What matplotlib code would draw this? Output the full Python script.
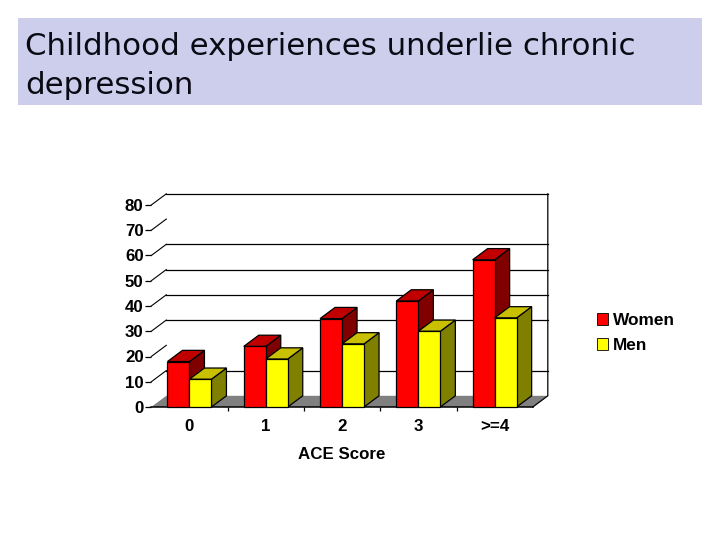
import matplotlib
matplotlib.use("Agg")
import matplotlib.pyplot as plt
from matplotlib.patches import Rectangle, Patch

plt.rcParams['font.family'] = ['Liberation Sans', 'DejaVu Sans']

title_lines = "Childhood experiences underlie chronic\ndepression"
categories = ["0", "1", "2", "3", ">=4"]
women = [18, 24, 35, 42, 58.3]
men = [11, 19, 25, 30, 35.3]
y_ticks = [0, 10, 20, 30, 40, 50, 60, 70, 80]
grid_values = [10, 30, 40, 50, 60, 80]
diag_values = [10, 20, 30, 40, 50, 60, 70, 80]
x_label = "ACE Score"
legend_labels = ["Women", "Men"]

W, H = 720, 540
fig = plt.figure(figsize=(W / 100, H / 100), dpi=100, facecolor="white")

# Title banner
fig.add_artist(Rectangle((18 / W, 1 - 105 / H), 684 / W, 87 / H,
                         transform=fig.transFigure, fc="#CCCEEC", ec="none"))
first, second = title_lines.split("\n")
fig.text(25 / W, 1 - 55 / H, first, fontsize=22.25, color="#0A0A14", family="DejaVu Sans",
         va="baseline", ha="left")
fig.text(25 / W, 1 - 94 / H, second, fontsize=22.25, color="#0A0A14", family="DejaVu Sans",
         va="baseline", ha="left")

# Plot area
L, R, T, B = 151.3, 548.0, 194.0, 407.0
ax = fig.add_axes([L / W, 1 - B / H, (R - L) / W, (B - T) / H])
n = len(categories)
cat_px = 76.3
px_per_unit = 2.525
dx = 15.0 / cat_px
dy = 11.2 / px_per_unit
ax.set_xlim(0, (R - L) / cat_px)
ax.set_ylim(0, (B - T) / px_per_unit)
for s in ax.spines.values():
    s.set_visible(False)
ax.patch.set_visible(False)

# Floor, walls, gridlines
ax.fill([0, n, n + dx, dx], [0, 0, dy, dy], fc="#808080", ec="none", zorder=1)
ax.plot([n, n + dx, n + dx], [0, dy, 80 + dy], color="black", lw=0.9, zorder=2, clip_on=False)
for v in grid_values:
    ax.plot([dx, n + dx], [v + dy, v + dy], color="black", lw=0.9, zorder=2, clip_on=False)
for v in diag_values:
    ax.plot([0, dx], [v, v + dy], color="black", lw=0.8, zorder=2, clip_on=False)
ax.plot([0, n], [0, 0], color="black", lw=1.1, zorder=3, clip_on=False)

# Bars
bw = 22 / cat_px
def bar3d(x0, h, front, top, side, z):
    ax.fill([x0 + bw, x0 + bw + dx, x0 + bw + dx, x0 + bw],
            [0, dy, h + dy, h], fc=side, ec="black", lw=0.9, zorder=z, clip_on=False)
    ax.fill([x0, x0 + dx, x0 + bw + dx, x0 + bw],
            [h, h + dy, h + dy, h], fc=top, ec="black", lw=0.9, zorder=z, clip_on=False)
    ax.bar(x0, h, width=bw, align="edge", fc=front, ec="black", lw=0.9, zorder=z + 0.1, clip_on=False)

for i in range(n):
    c = i + 0.5
    bar3d(c - bw, women[i], "#FF0000", "#C00000", "#800000", 4 + i * 0.01)
    bar3d(c, men[i], "#FFFF00", "#C8C000", "#808000", 5 + i * 0.01)

# Axes text
ax.set_yticks(y_ticks)
ax.set_yticklabels([str(v) for v in y_ticks], fontsize=12.2, fontweight="bold")
ax.tick_params(axis="y", length=4, width=0.9, pad=1.5)
ax.set_xticks(range(1, n))
ax.set_xticklabels([])
ax.tick_params(axis="x", which="major", length=3, width=0.9)
ax.set_xticks([i + 0.5 for i in range(n)], minor=True)
ax.set_xticklabels(categories, minor=True, fontsize=12.2, fontweight="bold")
ax.tick_params(axis="x", which="minor", length=0, pad=8.5)
fig.text(342 / W, 1 - 454.5 / H, x_label, fontsize=12.2, fontweight="bold", ha="center", va="center")

# Legend
handles = [Patch(fc="#FF0000", ec="black", lw=0.6), Patch(fc="#FFFF00", ec="black", lw=0.6)]
fig.legend(handles, legend_labels, loc="upper left", bbox_to_anchor=(597 / W, 1 - 313 / H),
           frameon=False, prop={"size": 12.4, "weight": "bold"}, handlelength=0.65,
           handleheight=0.65, handletextpad=0.28, labelspacing=0.58, borderpad=0, borderaxespad=0)

fig.savefig("out.png", dpi=100, facecolor="white")
